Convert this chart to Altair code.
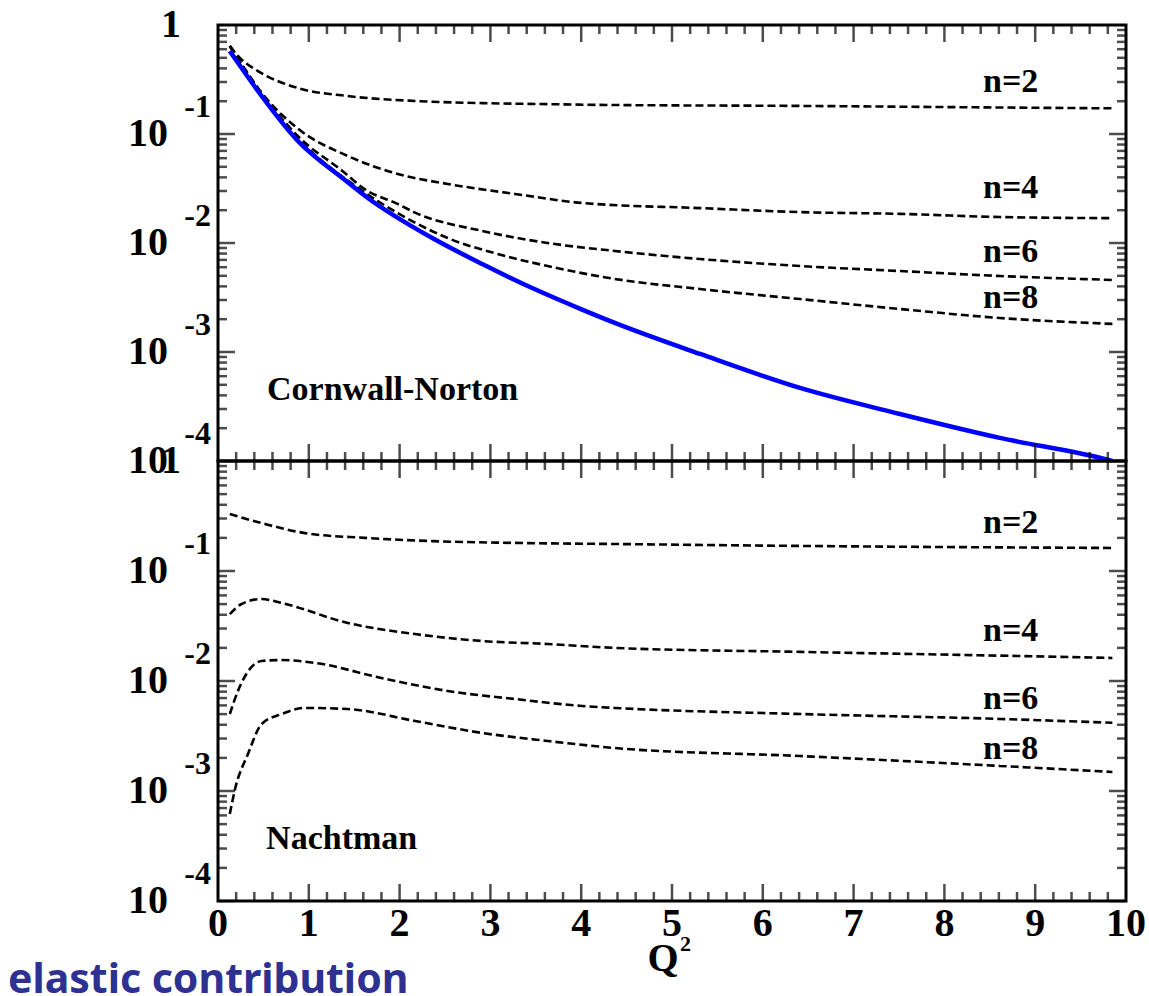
import altair as alt
import pandas as pd

# ---------------- data ----------------
# Cornwall-Norton panel: elastic (blue solid) and moments n=2,4,6,8 (dashed)
cn_el_q = [0.13, 0.26, 0.44, 0.88, 1.37, 1.65, 2.36, 2.91, 3.46, 4.01, 4.37, 5.31, 6.41, 7.51, 8.61, 9.71, 9.85]
cn_el_v = [0.577, 0.403, 0.248, 0.0863, 0.0394, 0.0259, 0.0111, 0.00641, 0.00386, 0.00245, 0.00185,
           0.000959, 0.000468, 0.000270, 0.000163, 0.000107, 0.000100]

cn_n2_q = [0.13, 0.24, 0.44, 0.88, 1.43, 2.17, 2.91, 3.63, 4.2, 6.41, 8.61, 9.85]
cn_n2_v = [0.641, 0.50, 0.378, 0.264, 0.223, 0.201, 0.192, 0.188, 0.185, 0.181, 0.175, 0.172]
cn_n4_q = [0.13, 0.44, 0.88, 1.43, 1.98, 2.53, 3.27, 4.01, 5.31, 6.41, 7.51, 8.61, 9.85]
cn_n4_v = [0.641, 0.263, 0.112, 0.0628, 0.0430, 0.0348, 0.0282, 0.0233, 0.0209, 0.0192, 0.0185, 0.0173, 0.0169]
cn_n6_q = [0.13, 0.44, 0.88, 1.37, 1.62, 1.98, 2.17, 2.91, 3.63, 4.37, 5.31, 6.41, 7.51, 8.61, 9.85]
cn_n6_v = [0.641, 0.263, 0.0955, 0.0458, 0.0310, 0.0228, 0.0190, 0.0129, 0.0100, 0.00845, 0.00713,
           0.00615, 0.00553, 0.00498, 0.00458]
cn_n8_q = [0.13, 0.44, 0.88, 1.51, 1.98, 2.53, 3.08, 3.63, 4.37, 5.31, 6.41, 7.51, 8.61, 9.85]
cn_n8_v = [0.641, 0.263, 0.0912, 0.0335, 0.0188, 0.0111, 0.00793, 0.00615, 0.00468, 0.00378, 0.00306,
           0.00248, 0.00205, 0.00181]

# Nachtman panel: moments n=2,4,6,8 (dashed)
na_n2_q = [0.13, 0.52, 0.96, 1.62, 2.36, 3.27, 4.37, 6.41, 8.61, 9.85]
na_n2_v = [0.330, 0.267, 0.221, 0.200, 0.187, 0.180, 0.176, 0.169, 0.164, 0.162]
na_n4_q = [0.13, 0.26, 0.48, 0.70, 1.43, 2.17, 2.91, 3.63, 4.37, 6.41, 8.61, 9.85]
na_n4_v = [0.0406, 0.0501, 0.0556, 0.0512, 0.0337, 0.0267, 0.0231, 0.0217, 0.0200, 0.0184, 0.0170, 0.0162]
na_n6_q = [0.13, 0.22, 0.48, 0.70, 1.07, 1.81, 2.53, 3.27, 4.01, 4.37, 6.41, 8.61, 9.85]
na_n6_v = [0.00501, 0.00813, 0.0152, 0.0155, 0.0146, 0.0106, 0.00811, 0.00686, 0.00593, 0.00569,
           0.00501, 0.00452, 0.00417]
na_n8_q = [0.13, 0.19, 0.33, 0.48, 0.70, 0.96, 1.43, 2.17, 2.91, 3.63, 4.37, 6.41, 8.61, 9.85]
na_n8_v = [0.000618, 0.00106, 0.00217, 0.00406, 0.00501, 0.00569, 0.00556, 0.00433, 0.00337, 0.00285,
           0.00246, 0.00208, 0.00169, 0.00149]

# curve labels and their anchor positions (data coordinates)
n_labels = ["n=2", "n=4", "n=6", "n=8"]
cn_label_q = [8.73, 8.73, 8.73, 8.73]
cn_label_v = [0.300, 0.0320, 0.00826, 0.00313]
na_label_q = [8.73, 8.73, 8.73, 8.73]
na_label_v = [0.273, 0.0285, 0.00686, 0.00241]

panel_names = ["Cornwall-Norton", "Nachtman"]
panel_name_q = [0.54, 0.53]
panel_name_v = [0.000448, 0.000366]

# axis ticks and labels
x_major = [1, 2, 3, 4, 5, 6, 7, 8, 9]
x_minor = [round(i * 0.2, 1) for i in range(1, 50) if i % 5 != 0]
x_labels = list(range(0, 11))
y_decades = [1e-1, 1e-2, 1e-3, 1e-4]
y_exponents = ["-1", "-2", "-3", "-4"]
y_minor = [k * d for d in [1e-4, 1e-3, 1e-2, 1e-1] for k in range(2, 10)]

SERIF = "Liberation Serif"
W = 908
H_TOP = 436
H_BOT = 440

xs = alt.Scale(domain=[0, 10], nice=False, zero=False)
ys = alt.Scale(type="log", domain=[1e-4, 1], nice=False)


def series_df(pairs):
    rows = []
    for name, qs, vs in pairs:
        for q, v in zip(qs, vs):
            rows.append({"q": q, "v": v, "s": name})
    return pd.DataFrame(rows)


def X(f="q"):
    return alt.X(f"{f}:Q", scale=xs, axis=None)


def Y(f="v"):
    return alt.Y(f"{f}:Q", scale=ys, axis=None)


def x_ticks(vals, size, edge, off):
    df = pd.DataFrame({"t": vals, "e": [edge] * len(vals)})
    return alt.Chart(df).mark_tick(orient="vertical", size=size, thickness=2.5, color="black",
                                   yOffset=off).encode(x=X("t"), y=Y("e"))


def y_ticks(vals, size, edge, off):
    df = pd.DataFrame({"t": vals, "e": [edge] * len(vals)})
    return alt.Chart(df).mark_tick(orient="horizontal", size=size, thickness=2.5, color="black",
                                   xOffset=off).encode(x=X("e"), y=Y("t"))


def frame_ticks():
    return [
        x_ticks(x_major, 17, 1e-4, -8.5), x_ticks(x_minor, 9, 1e-4, -4.5),
        x_ticks(x_major, 17, 1.0, 8.5), x_ticks(x_minor, 9, 1.0, 4.5),
        y_ticks(y_decades, 17, 0, 8.5), y_ticks(y_minor, 9, 0, 4.5),
        y_ticks(y_decades, 17, 10, -8.5), y_ticks(y_minor, 9, 10, -4.5),
    ]


def y_tick_labels():
    dec = pd.DataFrame({"v": y_decades, "base": ["10"] * 4, "ex": y_exponents})
    one = pd.DataFrame({"v": [1.0], "base": ["1"]})
    base = alt.Chart(dec).mark_text(align="right", baseline="middle", font=SERIF, fontWeight="bold",
                                    fontSize=40, color="black").encode(
        x=alt.value(-50), y=Y("v"), text="base:N")
    expo = alt.Chart(dec).mark_text(align="right", baseline="middle", font=SERIF, fontWeight="bold",
                                    fontSize=32, dy=-27, color="black").encode(
        x=alt.value(-7), y=Y("v"), text="ex:N")
    top1 = alt.Chart(one).mark_text(align="right", baseline="middle", font=SERIF, fontWeight="bold",
                                    fontSize=40, color="black").encode(
        x=alt.value(-37), y=Y("v"), text="base:N")
    return [base, expo, top1]


def curve_labels(qs, vs):
    df = pd.DataFrame({"q": qs, "v": vs, "t": n_labels})
    return alt.Chart(df).mark_text(align="center", baseline="middle", font=SERIF, fontWeight="bold",
                                   fontSize=34, color="black").encode(x=X(), y=Y(), text="t:N")


def panel_label(i):
    df = pd.DataFrame({"q": [panel_name_q[i]], "v": [panel_name_v[i]], "t": [panel_names[i]]})
    return alt.Chart(df).mark_text(align="left", baseline="middle", font=SERIF, fontWeight="bold",
                                   fontSize=34, color="black").encode(x=X(), y=Y(), text="t:N")


def dashed(df):
    return alt.Chart(df).mark_line(color="black", strokeWidth=2.6, strokeDash=[8, 4], clip=True,
                                   interpolate="monotone").encode(x=X(), y=Y(), detail="s:N")


# ---------------- top panel ----------------
cn_dash = series_df([("n=2", cn_n2_q, cn_n2_v), ("n=4", cn_n4_q, cn_n4_v),
                     ("n=6", cn_n6_q, cn_n6_v), ("n=8", cn_n8_q, cn_n8_v)])
cn_el = pd.DataFrame({"q": cn_el_q, "v": cn_el_v})
blue = alt.Chart(cn_el).mark_line(color="#0000ff", strokeWidth=4.5, clip=True,
                                  interpolate="monotone").encode(x=X(), y=Y())

top = alt.layer(
    dashed(cn_dash), blue, *frame_ticks(), *y_tick_labels(),
    curve_labels(cn_label_q, cn_label_v), panel_label(0)
).properties(width=W, height=H_TOP)

# ---------------- bottom panel ----------------
na_dash = series_df([("n=2", na_n2_q, na_n2_v), ("n=4", na_n4_q, na_n4_v),
                     ("n=6", na_n6_q, na_n6_v), ("n=8", na_n8_q, na_n8_v)])

xl = pd.DataFrame({"t": x_labels, "e": [1e-4] * len(x_labels), "s": [str(v) for v in x_labels]})
x_lab = alt.Chart(xl).mark_text(align="center", baseline="middle", font=SERIF, fontWeight="bold",
                                fontSize=40, dy=23, color="black").encode(x=X("t"), y=Y("e"), text="s:N")

qt = pd.DataFrame({"t": [5.0], "e": [1e-4], "a": ["Q"], "b": ["2"]})
q_lab = alt.Chart(qt).mark_text(align="center", baseline="middle", font=SERIF, fontWeight="bold",
                                fontSize=40, dx=-9, dy=58, color="black").encode(x=X("t"), y=Y("e"), text="a:N")
q_sup = alt.Chart(qt).mark_text(align="left", baseline="middle", font=SERIF, fontWeight="bold",
                                fontSize=22, dx=8, dy=43, color="black").encode(x=X("t"), y=Y("e"), text="b:N")

el = pd.DataFrame({"e": [1e-4], "t": ["elastic contribution"]})
el_lab = alt.Chart(el).mark_text(align="left", baseline="alphabetic", font="Noto Sans", fontWeight="bold",
                                 fontSize=41, dy=92, color="#2e3192").encode(
    x=alt.value(-210), y=Y("e"), text="t:N")

bottom = alt.layer(
    dashed(na_dash), *frame_ticks(), *y_tick_labels(),
    curve_labels(na_label_q, na_label_v), panel_label(1), x_lab, q_lab, q_sup, el_lab
).properties(width=W, height=H_BOT)

chart = alt.vconcat(top, bottom, spacing=0, bounds="flush").configure_view(
    stroke="black", strokeWidth=3
).properties(padding={"left": 6, "top": 3, "right": 0, "bottom": 0}, background="white")

chart.save("out.html", embed_options={"renderer": "svg", "actions": False})
